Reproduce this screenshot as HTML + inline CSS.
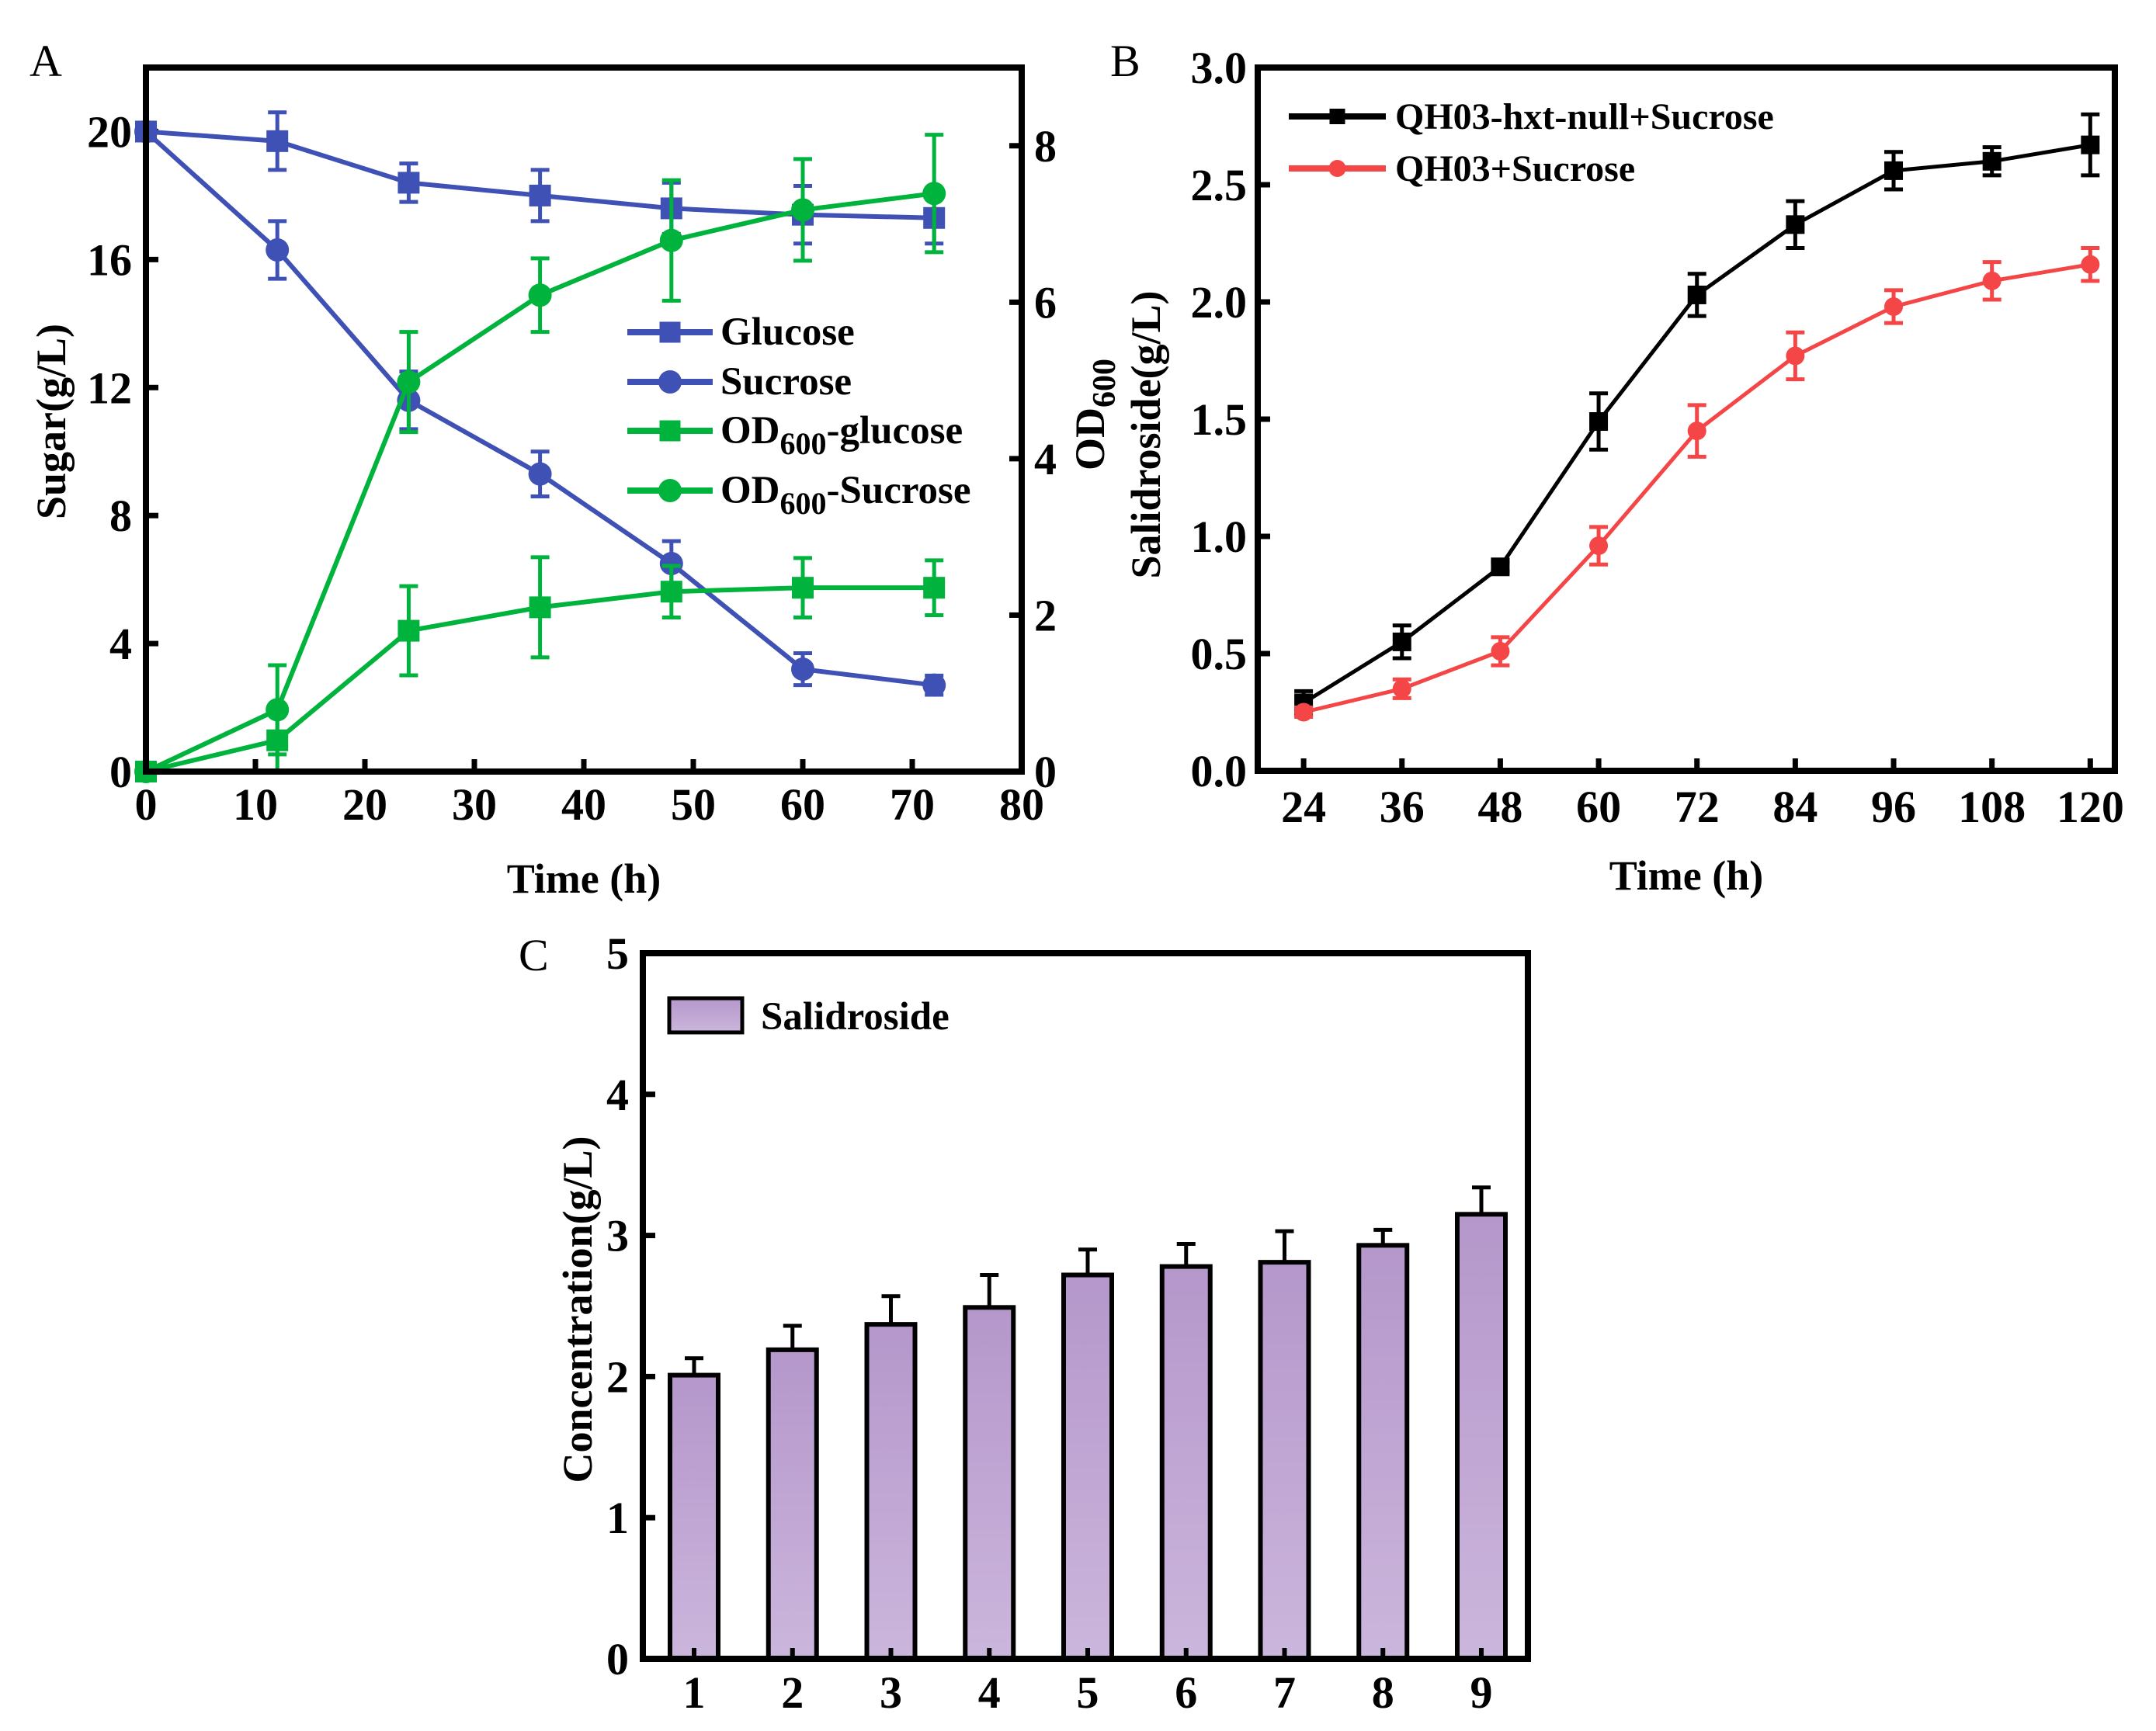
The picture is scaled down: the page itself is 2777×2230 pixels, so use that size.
<!DOCTYPE html>
<html><head><meta charset="utf-8"><style>
html,body{margin:0;padding:0;background:#fff;}
svg{display:block;font-family:"Liberation Serif",serif;}
.tk{font-size:58px;font-weight:bold;}
.ti{font-size:54px;font-weight:bold;}
.lg{font-size:48px;font-weight:bold;}
.lgA{font-size:51px;font-weight:bold;}
.pl{font-size:58px;}
</style></head><body>
<svg id="fig" width="2777" height="2230" viewBox="0 0 2777 2230" xmlns="http://www.w3.org/2000/svg">
<defs><linearGradient id="barg" x1="0" y1="0" x2="0" y2="1"><stop offset="0" stop-color="#b597cb"/><stop offset="1" stop-color="#cbb6dc"/></linearGradient></defs>
<g id="gA"></g>
<g id="gB"></g>
<g id="gC"></g>
</svg>
<script>
// Panel A data
const aTimes=[0,12,24,36,48,60,72];
const aGlucose=[20,19.7,18.4,18.0,17.6,17.4,17.3];
const aGlucoseErr=[0,0.9,0.6,0.8,0.8,0.9,0.8];
const aSucrose=[20,16.3,11.6,9.3,6.5,3.2,2.7];
const aSucroseErr=[0,0.9,0.9,0.7,0.7,0.5,0.3];
const aOdGlucose=[0,0.4,1.8,2.1,2.3,2.35,2.35];
const aOdGlucoseErr=[0,0.4,0.57,0.64,0.33,0.38,0.35];
const aOdSucrose=[0,0.79,4.98,6.09,6.79,7.18,7.39];
const aOdSucroseErr=[0,0.57,0.64,0.47,0.77,0.65,0.75];
const aXTicks=[0,10,20,30,40,50,60,70,80];
const aYTicks=[0,4,8,12,16,20];
const aY2Ticks=[0,2,4,6,8];
// Panel B data
const bTimes=[24,36,48,60,72,84,96,108,120];
const bHxt=[0.29,0.55,0.87,1.49,2.03,2.33,2.56,2.60,2.67];
const bHxtErr=[0.05,0.07,0.02,0.12,0.09,0.10,0.08,0.06,0.13];
const bQH=[0.25,0.35,0.51,0.96,1.45,1.77,1.98,2.09,2.16];
const bQHErr=[0.02,0.04,0.06,0.08,0.11,0.10,0.07,0.08,0.07];
const bYTicks=[0,0.5,1.0,1.5,2.0,2.5,3.0];
// Panel C data
const cCats=[1,2,3,4,5,6,7,8,9];
const cVals=[2.01,2.19,2.37,2.49,2.72,2.78,2.81,2.93,3.15];
const cErr=[0.12,0.17,0.2,0.23,0.18,0.16,0.22,0.11,0.19];
const cYTicks=[0,1,2,3,4,5];

const NS='http://www.w3.org/2000/svg';
function mk(parent,tag,attrs,text){const e=document.createElementNS(NS,tag);for(const k in attrs)e.setAttribute(k,attrs[k]);if(text!==undefined)e.textContent=text;parent.appendChild(e);return e;}
function lin(d0,d1,r0,r1){return v=>r0+(v-d0)/(d1-d0)*(r1-r0);}

const BLUE='#3f51b5',GREEN='#00b33c',RED='#f44646',BLK='#000';

function frame(g,L,T,R,B){
  const f=mk(g,'rect',{x:L,y:T,width:R-L,height:B-T,fill:'none',stroke:'#000','stroke-width':8});
  
}
function series(g,name,xs,ys,es,sx,sy,color,marker,ms,lw){
  const sg=mk(g,'g',{});
  
  const pts=xs.map((x,i)=>sx(x)+','+sy(ys[i])).join(' ');
  mk(sg,'polyline',{points:pts,fill:'none',stroke:color,'stroke-width':lw});
  xs.forEach((x,i)=>{
    const cx=sx(x),cy=sy(ys[i]);
    if(es[i]>0){const y1=sy(ys[i]+es[i]),y2=sy(ys[i]-es[i]);
      const eb=mk(sg,'path',{d:`M${cx},${y1}V${y2}M${cx-12},${y1}H${cx+12}M${cx-12},${y2}H${cx+12}`,stroke:color,'stroke-width':5,fill:'none'});
      }
    let m;
    if(marker==='s')m=mk(sg,'rect',{x:cx-ms/2,y:cy-ms/2,width:ms,height:ms,fill:color});
    else m=mk(sg,'circle',{cx:cx,cy:cy,r:ms/2,fill:color});
    
  });
}
function legendEntry(g,x0,x1,y,color,marker,ms,label,tx,sub,cls){
  const lg=mk(g,'g',{});
  
  mk(lg,'line',{x1:x0,x2:x1,y1:y,y2:y,stroke:color,'stroke-width':8});
  const cx=(x0+x1)/2;
  if(marker==='s')mk(lg,'rect',{x:cx-ms/2,y:y-ms/2,width:ms,height:ms,fill:color});
  else mk(lg,'circle',{cx:cx,cy:y,r:ms/2,fill:color});
  const t=mk(lg,'text',{x:tx,y:y+16,class:cls});
  if(sub){t.appendChild(document.createTextNode('OD'));const s=mk(t,'tspan',{dy:14,'font-size':40},'600');mk(t,'tspan',{dy:-14},label);}
  else t.textContent=label;
}

// ---------- Panel A ----------
(function(){
  const g=document.getElementById('gA');
  const L=188,T=87,R=1316,B=994;
  const sx=lin(0,80,L,R), sy=lin(0,22,B,T), sy2=lin(0,9,B,T);
  aXTicks.forEach(v=>{mk(g,'line',{x1:sx(v),x2:sx(v),y1:B,y2:B-16,stroke:'#000','stroke-width':7});
    const t=mk(g,'text',{x:sx(v),y:B+62,'text-anchor':'middle',class:'tk'},String(v));});
  aYTicks.forEach(v=>{mk(g,'line',{x1:L,x2:L+16,y1:sy(v),y2:sy(v),stroke:'#000','stroke-width':7});
    const t=mk(g,'text',{x:L-18,y:sy(v)+20,'text-anchor':'end',class:'tk'},String(v));});
  aY2Ticks.forEach(v=>{mk(g,'line',{x1:R,x2:R-16,y1:sy2(v),y2:sy2(v),stroke:'#000','stroke-width':7});
    const t=mk(g,'text',{x:R+16,y:sy2(v)+20,'text-anchor':'start',class:'tk'},String(v));});
  series(g,'glucose-series',aTimes,aGlucose,aGlucoseErr,sx,sy,BLUE,'s',28,6);
  series(g,'sucrose-series',aTimes,aSucrose,aSucroseErr,sx,sy,BLUE,'c',30,6);
  series(g,'od600-glucose-series',aTimes,aOdGlucose,aOdGlucoseErr,sx,sy2,GREEN,'s',28,6);
  series(g,'od600-sucrose-series',aTimes,aOdSucrose,aOdSucroseErr,sx,sy2,GREEN,'c',30,6);
  frame(g,L,T,R,B);
  const lx0=808,lx1=918,tx=928;
  legendEntry(g,lx0,lx1,428,BLUE,'s',27,'Glucose',tx,false,'lgA');
  legendEntry(g,lx0,lx1,492,BLUE,'c',30,'Sucrose',tx,false,'lgA');
  legendEntry(g,lx0,lx1,555,GREEN,'s',27,'-glucose',tx,true,'lgA');
  legendEntry(g,lx0,lx1,632,GREEN,'c',30,'-Sucrose',tx,true,'lgA');
  let t=mk(g,'text',{x:(L+R)/2,y:1150,'text-anchor':'middle',class:'ti'},'Time (h)');
  t=mk(g,'text',{x:0,y:0,'text-anchor':'middle',class:'ti',transform:'translate(84,543) rotate(-90)'},'Sugar(g/L)');
  t=mk(g,'text',{x:0,y:0,'text-anchor':'middle',class:'ti',transform:'translate(1422,534) rotate(-90)'});
  t.appendChild(document.createTextNode('OD'));mk(t,'tspan',{dy:14,'font-size':42},'600');
  
  t=mk(g,'text',{x:38,y:98,class:'pl'},'A');
})();

// ---------- Panel B ----------
(function(){
  const g=document.getElementById('gB');
  const L=1620,T=87,R=2724,B=993;
  const sx=lin(18.4,123,L,R), sy=lin(0,3,B,T);
  bTimes.forEach(v=>{mk(g,'line',{x1:sx(v),x2:sx(v),y1:B,y2:B-16,stroke:'#000','stroke-width':7});
    const t=mk(g,'text',{x:sx(v),y:B+66,'text-anchor':'middle',class:'tk'},String(v));});
  bYTicks.forEach(v=>{mk(g,'line',{x1:L,x2:L+16,y1:sy(v),y2:sy(v),stroke:'#000','stroke-width':7});
    const t=mk(g,'text',{x:L-14,y:sy(v)+20,'text-anchor':'end',class:'tk'},v.toFixed(1));});
  series(g,'qh03-hxt-null-series',bTimes,bHxt,bHxtErr,sx,sy,BLK,'s',24,5);
  series(g,'qh03-series',bTimes,bQH,bQHErr,sx,sy,RED,'c',24,5);
  frame(g,L,T,R,B);
  legendEntry(g,1660,1785,150,BLK,'s',20,'QH03-hxt-null+Sucrose',1797,false,'lg');
  legendEntry(g,1660,1785,217,RED,'c',22,'QH03+Sucrose',1797,false,'lg');
  let t=mk(g,'text',{x:(L+R)/2,y:1146,'text-anchor':'middle',class:'ti'},'Time (h)');
  t=mk(g,'text',{x:0,y:0,'text-anchor':'middle',class:'ti',transform:'translate(1494,560) rotate(-90)'},'Salidroside(g/L)');
  t=mk(g,'text',{x:1430,y:98,class:'pl'},'B');
})();

// ---------- Panel C ----------
(function(){
  const g=document.getElementById('gC');
  const L=828,T=1228,R=1968,B=2137;
  const sx=lin(1,9,894,1908), sy=lin(0,5,B,T), bw=62;
  cYTicks.forEach(v=>{mk(g,'line',{x1:L,x2:L+16,y1:sy(v),y2:sy(v),stroke:'#000','stroke-width':7});
    const t=mk(g,'text',{x:L-18,y:sy(v)+20,'text-anchor':'end',class:'tk'},String(v));});
  cCats.forEach((c,i)=>{
    const x=sx(c), y=sy(cVals[i]), ye=sy(cVals[i]+cErr[i]);
    const eb=mk(g,'path',{d:`M${x},${y}V${ye}M${x-12},${ye}H${x+12}`,stroke:'#000','stroke-width':5,fill:'none'});
    
    const r=mk(g,'rect',{x:x-bw/2,y:y,width:bw,height:B-y,fill:'url(#barg)',stroke:'#000','stroke-width':6});
    
    mk(g,'line',{x1:x,x2:x,y1:B,y2:B-14,stroke:'#000','stroke-width':6});
    const t=mk(g,'text',{x:x,y:2200,'text-anchor':'middle',class:'tk'},String(c));
  });
  frame(g,L,T,R,B);
  const lg=mk(g,'g',{});
  mk(lg,'rect',{x:862,y:1286,width:94,height:44,fill:'url(#barg)',stroke:'#000','stroke-width':5});
  mk(lg,'text',{x:980,y:1326,class:'lgA'},'Salidroside');
  let t=mk(g,'text',{x:0,y:0,'text-anchor':'middle',class:'ti',transform:'translate(762,1687) rotate(-90)'},'Concentration(g/L)');
  t=mk(g,'text',{x:668,y:1250,class:'pl'},'C');
})();
</script>
</body></html>
